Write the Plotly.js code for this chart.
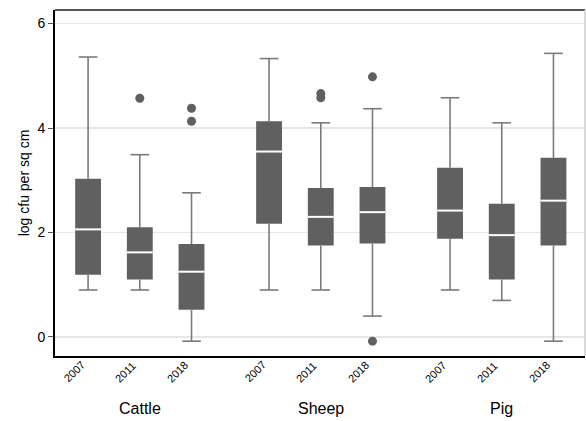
<!DOCTYPE html>
<html>
<head>
<meta charset="utf-8">
<script src="https://cdn.plot.ly/plotly-3.0.1.min.js"></script>
<style>html,body{margin:0;padding:0;background:#fff;}#chart{width:586px;height:421px;}</style>
</head>
<body>
<div id="chart"></div>
<script>
// Data
const groups = ["Cattle", "Sheep", "Pig"];
const years = ["2007", "2011", "2018", "2007", "2011", "2018", "2007", "2011", "2018"];
const groupOf = [0, 0, 0, 1, 1, 1, 2, 2, 2];
const lowerWhisker = [0.90, 0.90, -0.08, 0.90, 0.90, 0.40, 0.90, 0.70, -0.08];
const q1 = [1.19, 1.10, 0.52, 2.17, 1.75, 1.79, 1.88, 1.10, 1.75];
const median = [2.06, 1.62, 1.25, 3.55, 2.30, 2.39, 2.42, 1.95, 2.61];
const q3 = [3.03, 2.10, 1.78, 4.13, 2.85, 2.87, 3.24, 2.55, 3.43];
const upperWhisker = [5.36, 3.49, 2.76, 5.33, 4.10, 4.37, 4.58, 4.10, 5.43];
const outlierBox = [1, 2, 2, 4, 4, 5, 5];
const outlierValues = [4.57, 4.38, 4.13, 4.58, 4.66, 4.98, -0.08];

// positions: boxes within a group spaced 1, extra gap of 0.5 between groups
const pos = years.map((_, i) => i + 0.5 * groupOf[i]);
const groupCenter = groups.map((_, g) => {
  const p = pos.filter((_, i) => groupOf[i] === g);
  return (p[0] + p[p.length - 1]) / 2;
});

const boxW = 0.5, capW = 0.36;
const boxColor = "#606060", whiskColor = "#7a7a7a";

const wx = [], wy = [];
pos.forEach((p, i) => {
  wx.push(p, p, null, p - capW / 2, p + capW / 2, null);
  wy.push(lowerWhisker[i], q1[i], null, lowerWhisker[i], lowerWhisker[i], null);
  wx.push(p, p, null, p - capW / 2, p + capW / 2, null);
  wy.push(q3[i], upperWhisker[i], null, upperWhisker[i], upperWhisker[i], null);
});
const mx = [], my = [];
pos.forEach((p, i) => {
  mx.push(p - boxW / 2, p + boxW / 2, null);
  my.push(median[i], median[i], null);
});

const traces = [
  {type: "scatter", mode: "lines", x: wx, y: wy, line: {color: whiskColor, width: 1.6}, hoverinfo: "skip", showlegend: false},
  {type: "bar", x: pos, base: q1, y: q3.map((v, i) => v - q1[i]), width: boxW,
   marker: {color: boxColor, line: {width: 0}}, showlegend: false},
  {type: "scatter", mode: "lines", x: mx, y: my, line: {color: "#ffffff", width: 2}, hoverinfo: "skip", showlegend: false},
  {type: "scatter", mode: "markers", x: outlierBox.map(i => pos[i]), y: outlierValues,
   marker: {color: boxColor, size: 9}, showlegend: false}
];

const font = "Liberation Sans, Arial, sans-serif";
const yearLabels = pos.map((p, i) => ({
  text: years[i], x: p, xref: "x", y: 0, yref: "paper", xanchor: "right", yanchor: "top",
  textangle: -45, yshift: 0, xshift: 1, showarrow: false, font: {size: 11, family: font, color: "#000"}
}));
const groupLabels = groups.map((g, k) => ({
  text: g, x: groupCenter[k], xref: "x", y: 0, yref: "paper", yshift: -52, yanchor: "middle",
  showarrow: false, font: {size: 16, family: font, color: "#000"}
}));

const layout = {
  width: 586, height: 421,
  margin: {l: 55, r: 1, t: 10, b: 65},
  paper_bgcolor: "#ffffff", plot_bgcolor: "#ffffff",
  font: {family: font, color: "#000"},
  showlegend: false,
  xaxis: {
    range: [-0.64, 9.61], tickmode: "array", tickvals: pos, showticklabels: false, ticks: "", showgrid: false,
    zeroline: false, showline: true, linecolor: "#000", linewidth: 2, fixedrange: true
  },
  yaxis: {
    range: [-0.364, 6.26], tickvals: [0, 2, 4, 6], ticktext: ["0", "2", "4", "6"],
    ticks: "outside", ticklen: 5, tickcolor: "#555", tickwidth: 1, tickfont: {size: 14, family: font},
    showgrid: true, gridcolor: "#e6e6e6", gridwidth: 1.5, zeroline: false,
    showline: true, linecolor: "#000", linewidth: 2,
    title: {text: "log cfu per sq cm", font: {size: 14, family: font}, standoff: 5}
  },
  shapes: [
    {type: "line", xref: "paper", yref: "paper", x0: 0, x1: 1, y0: 1, y1: 1, line: {color: "#555", width: 2}},
    {type: "line", xref: "paper", yref: "paper", x0: 1, x1: 1, y0: 0, y1: 1, line: {color: "#cccccc", width: 1.5}}
  ],
  annotations: yearLabels.concat(groupLabels)
};
Plotly.newPlot("chart", traces, layout, {displayModeBar: false, staticPlot: true});
</script>
</body>
</html>
